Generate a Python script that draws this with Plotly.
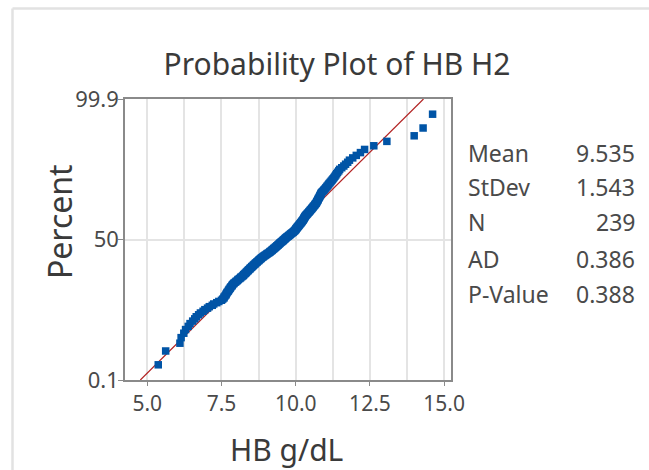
import plotly.graph_objects as go
from statistics import NormalDist

# ---- data (HB g/dL, sorted ascending, N = 239) ----
hb_values = [
    5.37, 5.62,
    6.10, 6.14, 6.23, 6.29, 6.38, 6.44, 6.53, 6.60,
    6.65, 6.73, 6.79, 6.88,
    6.94, 7.03, 7.09, 7.19, 7.24, 7.34, 7.41, 7.50,
    7.54, 7.58, 7.59, 7.62, 7.65, 7.66, 7.68,
    7.70, 7.73, 7.74, 7.76, 7.79, 7.80, 7.82, 7.85, 7.86, 7.88, 7.91, 7.93,
    7.97, 7.99, 8.03, 8.05, 8.07, 8.11, 8.14, 8.15, 8.19, 8.22, 8.24, 8.25, 8.28, 8.30, 8.33,
    8.34, 8.36, 8.39, 8.40, 8.42, 8.45, 8.46, 8.48, 8.51, 8.52, 8.54, 8.57, 8.58, 8.60,
    8.63, 8.64, 8.66, 8.69, 8.70, 8.72, 8.75, 8.76, 8.78,
    8.80, 8.83, 8.84, 8.86, 8.89, 8.91, 8.93, 8.96, 8.98, 9.01, 9.03, 9.05, 9.08, 9.11,
    9.13, 9.14, 9.17, 9.19, 9.21, 9.22, 9.25, 9.26, 9.28, 9.31, 9.32, 9.34, 9.36, 9.37,
    9.40, 9.41, 9.43, 9.45, 9.46, 9.48, 9.50, 9.52, 9.54, 9.56, 9.58, 9.59, 9.61, 9.63,
    9.65, 9.66, 9.68,
    9.70, 9.72, 9.75, 9.76, 9.78, 9.81, 9.82, 9.84, 9.86, 9.88, 9.91, 9.92, 9.94, 9.96,
    9.97, 9.99, 10.00,
    10.01, 10.02, 10.04, 10.05, 10.06, 10.08, 10.09, 10.10, 10.12, 10.13, 10.14, 10.16,
    10.17, 10.18, 10.20, 10.21, 10.22, 10.24, 10.25, 10.26, 10.27, 10.28, 10.29, 10.30,
    10.31, 10.32,
    10.34, 10.35, 10.37, 10.39, 10.40, 10.42, 10.44, 10.45, 10.47, 10.49, 10.50, 10.52,
    10.54, 10.55, 10.57, 10.59, 10.60, 10.62, 10.64, 10.65, 10.67, 10.69,
    10.70, 10.71, 10.72, 10.74, 10.75, 10.76, 10.77, 10.79, 10.80, 10.81, 10.82, 10.84,
    10.85, 10.86, 10.88,
    10.91, 10.94, 10.96, 10.99, 11.01, 11.04, 11.06, 11.09, 11.11, 11.14,
    11.17, 11.20, 11.23, 11.26, 11.29, 11.32, 11.35, 11.38, 11.41, 11.45, 11.48,
    11.55, 11.62, 11.68, 11.75, 11.81,
    11.92, 12.04, 12.18, 12.32,
    12.63, 13.07, 13.99, 14.29, 14.61,
]

stat_labels = ["Mean", "StDev", "N", "AD", "P-Value"]
stat_values = ["9.535", "1.543", "239", "0.386", "0.388"]
fit_mean = 9.535
fit_sd = 1.543

y_tick_percents = [0.1, 50, 99.9]
y_tick_text = ["0.1", "50", "99.9"]
x_tick_vals = [5.0, 7.5, 10.0, 12.5, 15.0]
x_tick_text = ["5.0", "7.5", "10.0", "12.5", "15.0"]

# ---- probability-plot coordinates (median ranks on a normal scale) ----
nd = NormalDist()
data = sorted(hb_values)
n = len(data)
zs = [nd.inv_cdf((i - 0.3) / (n + 0.4)) for i in range(1, n + 1)]

z_lo = nd.inv_cdf(0.001)
z_hi = nd.inv_cdf(0.999)
y_tickvals = [nd.inv_cdf(p / 100.0) for p in y_tick_percents]

FONT = "Noto Sans, Open Sans, DejaVu Sans, sans-serif"
TXT = "#4a4a4a"

fig = go.Figure()
fig.add_trace(go.Scatter(
    x=[fit_mean + z_lo * fit_sd, fit_mean + z_hi * fit_sd], y=[z_lo, z_hi],
    mode="lines", line=dict(color="#b22222", width=1.2), hoverinfo="skip",
    showlegend=False))
fig.add_trace(go.Scatter(
    x=data, y=zs, mode="markers",
    marker=dict(symbol="square", size=7.5, color="#0054a6", line=dict(width=0)),
    showlegend=False))

fig.update_layout(
    width=649, height=470,
    margin=dict(l=125, r=198, t=99, b=90),
    paper_bgcolor="white", plot_bgcolor="white",
    font=dict(family=FONT, color=TXT),
    title=dict(text="Probability Plot of HB H2", x=337 / 649, xanchor="center",
               y=1 - 64 / 470, yanchor="middle",
               font=dict(size=30, color="#3a3a3a", family=FONT)),
)
fig.update_xaxes(
    range=[4.25, 15.23], tickvals=x_tick_vals, ticktext=x_tick_text,
    ticks="outside", ticklen=4, tickcolor="#8a8a8a", tickwidth=1,
    showline=True, linecolor="#8a8a8a", linewidth=1.5, mirror=True,
    showgrid=True, gridcolor="#e4e4e4", gridwidth=1.5,
    minor=dict(tick0=5, dtick=1.25, showgrid=True, gridcolor="#e4e4e4", gridwidth=1.5, ticks=""),
    tickfont=dict(size=21, color=TXT, family=FONT), zeroline=False)
fig.update_yaxes(
    range=[z_lo, z_hi], tickvals=y_tickvals, ticktext=y_tick_text,
    ticks="outside", ticklen=5, tickcolor="#8a8a8a", tickwidth=1,
    ticklabelstandoff=-5,
    showline=True, linecolor="#8a8a8a", linewidth=1.5, mirror=True,
    showgrid=True, gridcolor="#e4e4e4", gridwidth=1.5,
    tickfont=dict(size=22, color=TXT, family=FONT), zeroline=False)

# axis titles
fig.add_annotation(text="HB g/dL", xref="paper", yref="paper", x=0.495, y=(380 - 449) / 281,
                   xanchor="center", yanchor="middle", showarrow=False,
                   font=dict(size=30, color="#3a3a3a", family=FONT))
fig.add_annotation(text="Percent", xref="paper", yref="paper", x=(59 - 125) / 326, y=0.562,
                   xanchor="center", yanchor="middle", showarrow=False, textangle=-90,
                   font=dict(size=32, color="#3a3a3a", family=FONT))

# statistics table
row_y = [153, 187, 222, 259, 294]
for lab, val, py in zip(stat_labels, stat_values, row_y):
    yp = (380 - py) / 281
    fig.add_annotation(text=lab, xref="paper", yref="paper", x=(466 - 125) / 326, y=yp,
                       xanchor="left", yanchor="middle", showarrow=False,
                       font=dict(size=23, color=TXT, family=FONT))
    fig.add_annotation(text=val, xref="paper", yref="paper", x=(637 - 125) / 326, y=yp,
                       xanchor="right", yanchor="middle", showarrow=False,
                       font=dict(size=23, color=TXT, family=FONT))

# outer graph-window border (light gray)
bx = (12.5 - 125) / 326
by = (380 - 8.5) / 281
fig.add_shape(type="line", xref="paper", yref="paper", x0=bx, y0=by, x1=2.0, y1=by,
              line=dict(color="#e2e2e2", width=2.5))
fig.add_shape(type="line", xref="paper", yref="paper", x0=bx, y0=by, x1=bx, y1=-1.0,
              line=dict(color="#e2e2e2", width=2.5))

fig.write_html("out.html")
